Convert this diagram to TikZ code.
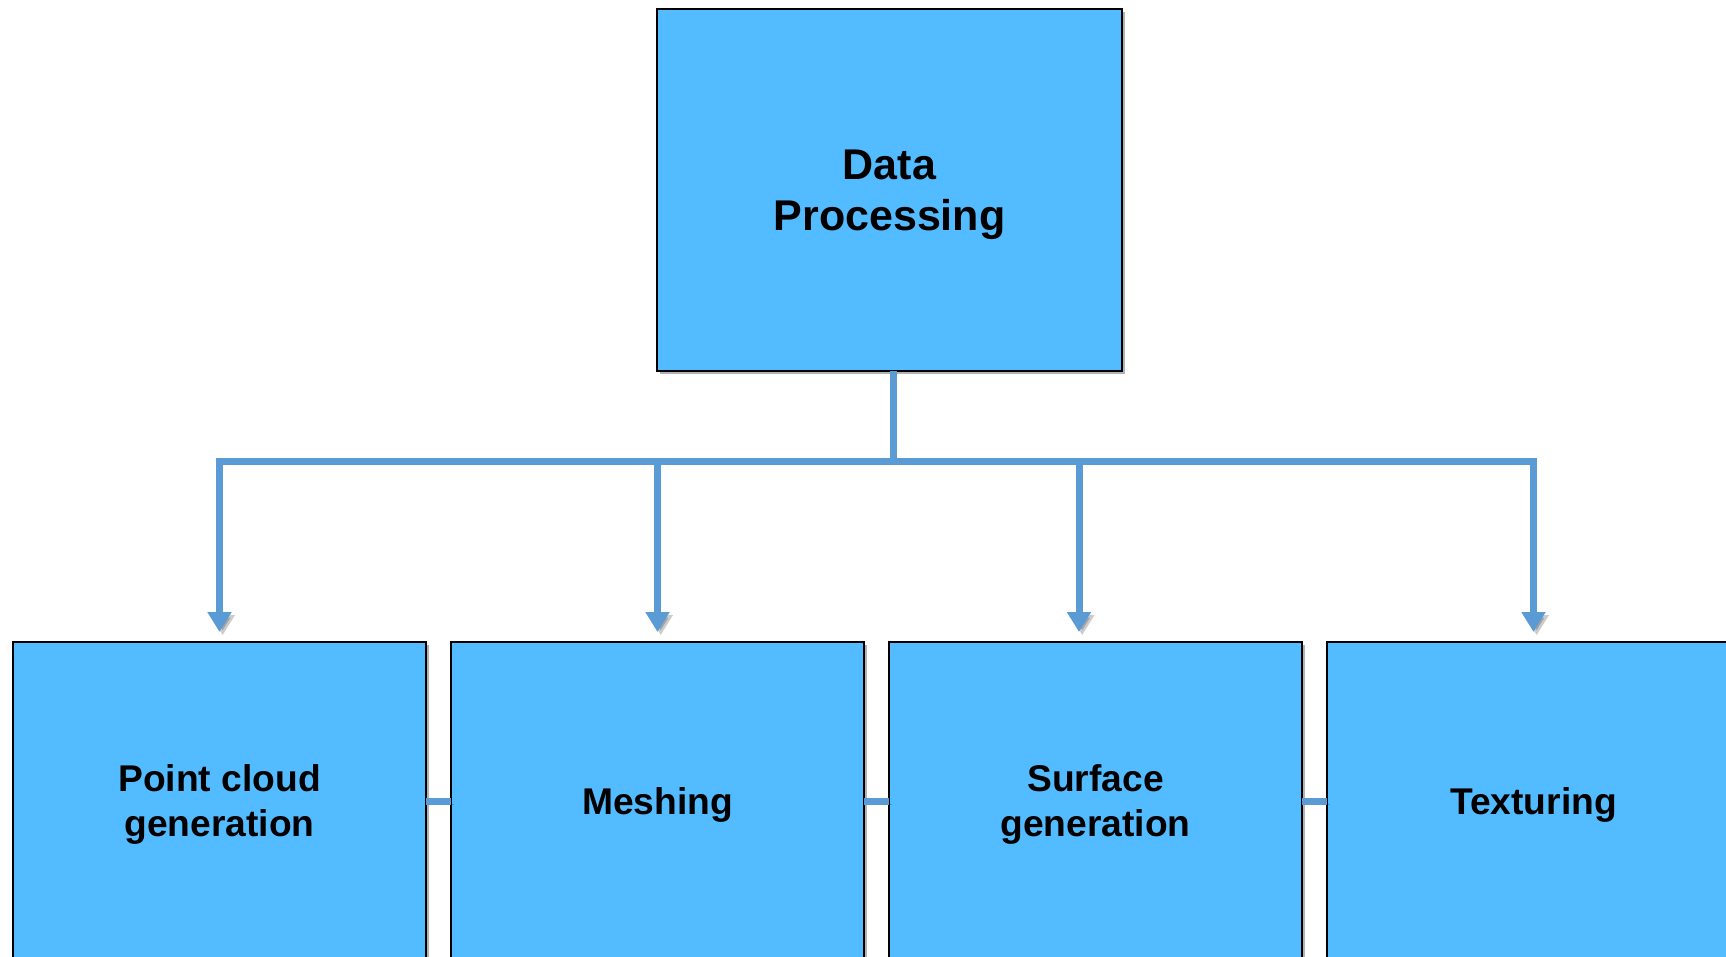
\documentclass[tikz,border=0pt]{standalone}
\usepackage{fontspec}
\setmainfont{Liberation Sans}
\usetikzlibrary{arrows.meta, positioning, shadows}
\definecolor{boxblue}{RGB}{83,187,255}
\definecolor{linkblue}{RGB}{91,155,213}

\begin{document}
\begin{tikzpicture}[
    x=0.5pt, y=-0.5pt,
    block/.style={draw, line width=0.6pt, fill=boxblue, align=center,
                  minimum width=206.5pt, minimum height=159pt,
                  inner sep=0pt, outer sep=0pt, text depth=0pt,
                  font=\bfseries\fontsize{18.6}{22.5}\selectfont,
                  drop shadow={shadow xshift=1.6pt, shadow yshift=-1.6pt,
                               opacity=0.3, fill=black}},
    rootblock/.style={block, minimum width=232.5pt, minimum height=181pt,
                  text depth=-2pt,
                  font=\bfseries\fontsize{21.5}{25.5}\selectfont},
    link/.style={draw=linkblue, line width=3.5pt,
                 preaction={draw=black, opacity=0.2,
                            transform canvas={shift={(1.6pt,-1.6pt)}}}},
    arr/.style={link, -{Triangle[length=10pt, width=11.5pt]}, shorten >=5pt},
]
    \useasboundingbox (0,0) rectangle (1726,957);

    \node[rootblock] (dp) at (889.5,190) {Data\\Processing};

    \node[block] (pc) at (219.5,801) {Point cloud\\generation};
    \node[block, right=12.5pt of pc] (mesh) {Meshing};
    \node[block, right=12.5pt of mesh] (surf) {Surface\\generation};
    \node[block, right=12.5pt of surf] (tex) {Texturing};

    % junctions on the bar
    \coordinate (stem) at (893,461.7);
    \coordinate (j1) at (pc.north |- stem);
    \coordinate (j2) at (mesh.north |- stem);
    \coordinate (j3) at (1079,461.7);
    \coordinate (j4) at (tex.north |- stem);

    \draw[link] (stem |- dp.south) -- (stem);
    \draw[link, line cap=rect] (j1) -- (j4);
    \draw[arr] (j1) -- (pc.north);
    \draw[arr] (j2) -- (mesh.north);
    \draw[arr] (j3) -- (j3 |- surf.north);
    \draw[arr] (j4) -- (tex.north);

    \draw[link] (pc.east) -- (mesh.west);
    \draw[link] (mesh.east) -- (surf.west);
    \draw[link] (surf.east) -- (tex.west);
\end{tikzpicture}
\end{document}
